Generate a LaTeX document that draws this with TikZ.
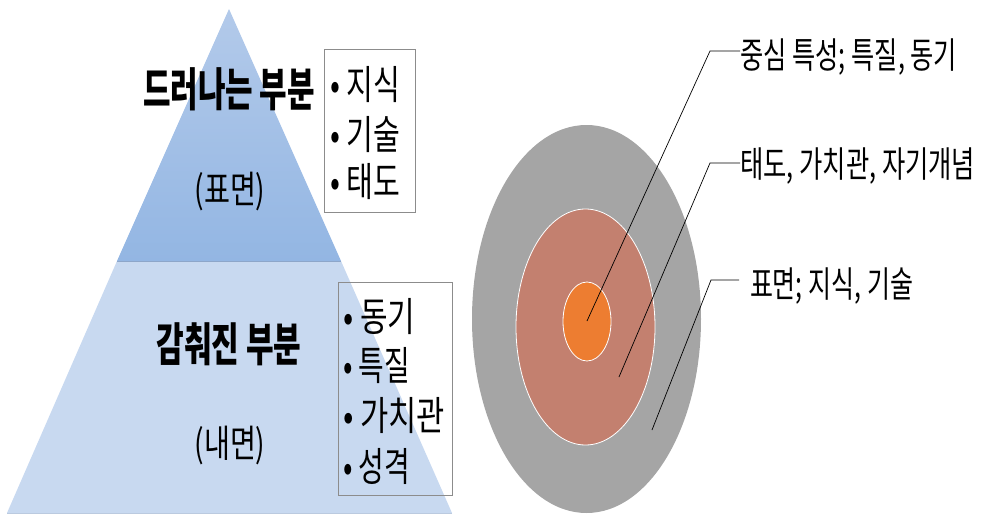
\documentclass[tikz,border=0pt]{standalone}
\usepackage{fontspec}
\usepackage{graphicx}
\newfontfamily\kr{Noto Sans CJK KR}
\definecolor{upTop}{HTML}{B3CAEA}
\definecolor{upBot}{HTML}{93B6E3}
\definecolor{lowBand}{HTML}{C8D9F0}
\definecolor{bandLine}{HTML}{8DA6C9}
\definecolor{boxGray}{HTML}{8C8C8C}
\definecolor{outerGray}{HTML}{A5A5A5}
\definecolor{midRed}{HTML}{C3806F}
\definecolor{innerOr}{HTML}{ED7D31}
\tikzset{
  head/.style={inner sep=0pt, font=\kr\bfseries\fontsize{46}{46}\selectfont},
  sub/.style={inner sep=0pt, font=\kr\fontsize{38}{38}\selectfont},
  item/.style={inner sep=0pt, anchor=west, font=\kr\fontsize{40}{40}\selectfont},
  lab/.style={inner sep=0pt, anchor=west, font=\kr\fontsize{36}{36}\selectfont},
  listbox/.style={draw=boxGray, line width=1pt, inner sep=0pt},
  leader/.style={draw=black, line width=0.7pt},
}
\newcommand{\fitw}[2]{\resizebox{#1pt}{\height}{#2}}
\begin{document}
\begin{tikzpicture}[x=1pt,y=-1pt]
\useasboundingbox (0,0) rectangle (989,514);
% pyramid
\fill[lowBand] (117,261) -- (341,261) -- (452,513) -- (7,513) -- cycle;
\draw[bandLine!60, line width=0.8pt] (7,513) -- (452,513);
\shade[top color=upTop, bottom color=upBot] (229,9) -- (341,261) -- (117,261) -- cycle;
\draw[bandLine, line width=1pt] (117,261) -- (341,261);
% texts
\node[head] (h1) at (229,89) {\fitw{172}{드러나는 부분}};
\node[sub] (s1) at (230,192) {\fitw{71}{(표면)}};
\node[head] (h2) at (229,344) {\fitw{145}{감춰진 부분}};
\node[sub] (s2) at (230,446) {\fitw{71}{(내면)}};
% top list box
\node[listbox, minimum width=91pt, minimum height=163pt] (b1) at (369.5,130.5) {};
\node[item] (i1) at (330,85) {\fitw{70}{• 지식}};
\node[item] (i2) at (330,135) {\fitw{70}{• 기술}};
\node[item] (i3) at (330,182) {\fitw{70}{• 태도}};
% bottom list box
\node[listbox, minimum width=114pt, minimum height=213pt] (b2) at (395,388.5) {};
\node[item] (j1) at (343,317) {\fitw{72}{• 동기}};
\node[item] (j2) at (343,366) {\fitw{67}{• 특질}};
\node[item] (j3) at (343,416) {\fitw{102}{• 가치관}};
\node[item] (j4) at (343,466) {\fitw{67}{• 성격}};
% target
\fill[outerGray] (586.5,319) ellipse [x radius=114.5, y radius=194];
\filldraw[fill=midRed, draw=white, line width=0.8pt] (585.5,327) ellipse [x radius=69.5, y radius=118];
\filldraw[fill=innerOr, draw=white, line width=0.8pt] (587,321.5) ellipse [x radius=24, y radius=39.5];
% labels
\node[lab] (l1) at (740,57) {\fitw{217}{중심 특성; 특질, 동기}};
\node[lab] (l2) at (740,166) {\fitw{235}{태도, 가치관, 자기개념}};
\node[lab, outer xsep=11pt] (l3) at (739,286) {\fitw{163}{표면; 지식, 기술}};
\coordinate (p1) at (587,321);
\coordinate (k1) at (710,51);
\coordinate (p2) at (619,377);
\coordinate (k2) at (710,163);
\coordinate (p3) at (652,430);
\coordinate (k3) at (711,280);
\draw[leader] (p1) -- (k1) -- (k1 -| l1.west);
\draw[leader] (p2) -- (k2) -- (k2 -| l2.west);
\draw[leader] (p3) -- (k3) -- (k3 -| l3.west);
\end{tikzpicture}
\end{document}
